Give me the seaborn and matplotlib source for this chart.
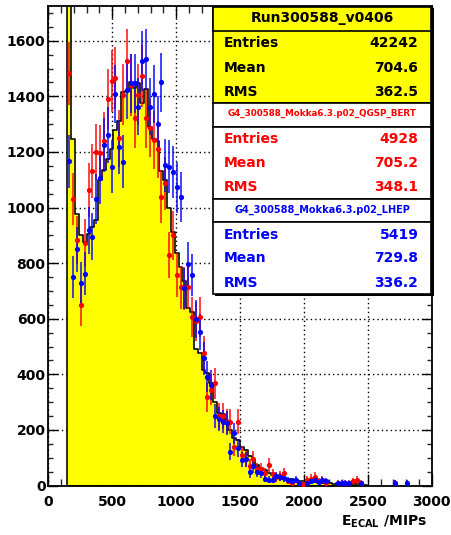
import numpy as np
import pandas as pd
import matplotlib
matplotlib.use("Agg")
import matplotlib.pyplot as plt
from matplotlib.patches import Rectangle
from matplotlib.ticker import MultipleLocator
import seaborn as sns

# ---------------- data ----------------
bin_width = 30
hist_start = 150
# data histogram (yellow), one value per 30-MIP bin starting at 150
data_counts = [2000, 1245, 975, 900, 875, 905, 930, 955, 1100, 1135,
               1175, 1210, 1280, 1310, 1415, 1418, 1452, 1430, 1448, 1375,
               1428, 1290, 1245, 1240, 1130, 1100, 1000, 912, 836, 786,
               735, 640, 625, 490, 476, 415, 404, 368, 300, 262,
               258, 236, 200, 172, 165, 140, 128, 106, 92, 74,
               63, 55, 45, 38, 36, 27, 25, 23, 22, 18,
               16, 16, 13, 12, 12, 10, 9, 10, 8, 7,
               8, 6, 5, 5, 6, 4, 5, 3]
# MC QGSP_BERT (red), per bin starting at 150 (NaN = empty bin)
red_counts = [1483, 1030, 883, 649, 873, 1063, 1131, 1200, 1197, 1240,
              1389, 1456, 1465, 1249, 1405, 1527, 1440, 1321, 1405, 1473,
              1321, 1285, 1243, 1209, 1039, 1087, 829, 900, 757, 713,
              709, 715, 605, 590, 607, 475, 317, 345, 367, 250,
              250, 230, 230, 140, 230, 110, 95, 70, 94, 60,
              60, 45, 74, 40, 30, 35, 44, 15, 10, np.nan,
              10, 5, 20, 25, 32, 15, 20, 10, np.nan, np.nan,
              10, np.nan, 8, 10, 15, 20, 10, np.nan, np.nan, np.nan,
              np.nan, np.nan, np.nan, np.nan, np.nan, 10]
# MC LHEP (blue)
blue_counts = [1167, 750, 850, 730, 762, 919, 895, 1030, 1105, 1225,
               1261, 1147, 1408, 1219, 1165, 1423, 1447, 1447, 1363, 1527,
               1533, 1363, 1408, 1302, 1450, 1152, 1147, 1129, 1073, 1037,
               709, 797, 757, 600, 553, 457, 391, 361, 250, 240,
               230, 225, 122, 188, 135, 92, 95, 48, 70, 50,
               45, 25, 20, 20, 34, 30, 28, 18, 15, 20,
               10, np.nan, 8, 15, 20, 12, 18, 15, np.nan, np.nan,
               8, 10, 10, 8, np.nan, np.nan, 8, np.nan, np.nan, np.nan,
               np.nan, np.nan, np.nan, np.nan, np.nan, 10, np.nan, np.nan, 10]

data_title = "Run300588_v0406"
red_title = "G4_300588_Mokka6.3.p02_QGSP_BERT"
blue_title = "G4_300588_Mokka6.3.p02_LHEP"
data_stats = [("Entries", "42242"), ("Mean", "704.6"), ("RMS", "362.5")]
red_stats = [("Entries", "4928"), ("Mean", "705.2"), ("RMS", "348.1")]
blue_stats = [("Entries", "5419"), ("Mean", "729.8"), ("RMS", "336.2")]
data_entries = 42242
red_entries = 4928
blue_entries = 5419

x_ticks = [0, 500, 1000, 1500, 2000, 2500, 3000]
y_ticks = [0, 200, 400, 600, 800, 1000, 1200, 1400, 1600]

# ---------------- style ----------------
sns.set_theme(style="white")
plt.rcParams["font.family"] = ["DejaVu Sans"]
plt.rcParams["mathtext.fontset"] = "dejavusans"

W, H = 452, 535
fig = plt.figure(figsize=(W / 100, H / 100), dpi=100)
fig.patch.set_facecolor("white")

def fx(x):
    return x / W

def fy(y):
    return 1 - y / H

ax_l, ax_r, ax_t, ax_b = 48.3, 431.7, 6.0, 485.5
ax = fig.add_axes([fx(ax_l), fy(ax_b), fx(ax_r) - fx(ax_l), fy(ax_t) - fy(ax_b)])
ax.set_facecolor("white")

# ---------------- histogram ----------------
n_data = len(data_counts)
edges = [float(hist_start + bin_width * i) for i in range(n_data + 1)]
centers = [e + bin_width / 2 for e in edges[:-1]]
df = pd.DataFrame({"E": centers, "w": data_counts})
sns.histplot(data=df, x="E", weights="w", bins=edges, element="step", fill=True,
             facecolor="#ffff00", edgecolor="black", linewidth=1.15, alpha=1,
             ax=ax, zorder=1)

def draw_points(vals, entries, color):
    vals = np.asarray(vals, dtype=float)
    c = hist_start + bin_width * np.arange(len(vals)) + bin_width / 2
    m = ~np.isnan(vals)
    scale = data_entries / entries
    err = np.sqrt(vals[m] * scale)
    ax.errorbar(c[m], vals[m], xerr=bin_width / 2, yerr=err, fmt="none",
                ecolor=color, elinewidth=1.3, capsize=0, zorder=3, alpha=0.8)
    sns.scatterplot(x=c[m], y=vals[m], color=color, s=14, linewidth=0,
                    ax=ax, zorder=4)

draw_points(red_counts, red_entries, "#ff0000")
draw_points(blue_counts, blue_entries, "#0000ff")

# ---------------- axes ----------------
ax.set_xlim(0, 3000)
ax.set_ylim(0, 1725)
ax.set_xticks(x_ticks)
ax.set_yticks(y_ticks)
ax.set_xticklabels([str(t) for t in x_ticks], fontsize=10, fontweight="bold")
ax.set_yticklabels([str(t) for t in y_ticks], fontsize=10, fontweight="bold")
ax.xaxis.set_minor_locator(MultipleLocator(100))
ax.yaxis.set_minor_locator(MultipleLocator(50))
ax.tick_params(axis="x", which="major", direction="in", length=8.5, width=1,
               top=True, bottom=True, pad=7, colors="black")
ax.tick_params(axis="x", which="minor", direction="in", length=5, width=1,
               top=True, bottom=True)
ax.tick_params(axis="y", which="major", direction="in", length=7, width=1,
               left=True, right=True, pad=2, colors="black")
ax.tick_params(axis="y", which="minor", direction="in", length=3.6, width=1,
               left=True, right=True)
ax.set_xlabel("")
ax.set_ylabel("")
ax.grid(True, which="major", color="black", linestyle=(0, (1, 2.2)), linewidth=1)
ax.set_axisbelow(True)
for s in ax.spines.values():
    s.set_visible(True)
    s.set_color("black")
    s.set_linewidth(1.3)

fig.text(fx(427), fy(521.7), r"E$_{\mathbf{ECAL}}$ /MIPs", ha="right", va="center",
         fontsize=10, fontweight="bold", color="black")

# ---------------- stat boxes ----------------
bx0, bx1 = 213.3, 431.5

def box(y0, y1, face):
    r = Rectangle((fx(bx0), fy(y1)), fx(bx1) - fx(bx0), fy(y0) - fy(y1),
                  transform=fig.transFigure, facecolor=face, edgecolor="black",
                  linewidth=1.2, zorder=10)
    fig.patches.append(r)

# shadow
fig.patches.append(Rectangle((fx(bx0 + 2), fy(296)), fx(bx1) - fx(bx0), fy(8) - fy(296),
                             transform=fig.transFigure, facecolor="black",
                             edgecolor="none", zorder=9))
box(6.7, 102.7, "#ffff00")
box(6.7, 30.7, "#ffff00")
box(102.7, 127, "white")
box(127, 199, "white")
box(199, 222, "white")
box(222, 294, "white")

def row_text(y, label, value, color):
    fig.text(fx(223.3), fy(y), label, ha="left", va="center", fontsize=10,
             fontweight="bold", color=color, zorder=11)
    fig.text(fx(418.5), fy(y), value, ha="right", va="center", fontsize=10,
             fontweight="bold", color=color, zorder=11)

cx = (bx0 + bx1) / 2
fig.text(fx(cx), fy(18), data_title, ha="center", va="center", fontsize=10,
         fontweight="bold", color="black", zorder=11)
for (lab, val), y in zip(data_stats, [43.3, 68.3, 91.7]):
    row_text(y, lab, val, "black")
fig.text(fx(cx), fy(113.5), red_title, ha="center", va="center", fontsize=6.3,
         fontweight="bold", color="#ff0000", zorder=11)
for (lab, val), y in zip(red_stats, [139.3, 163.3, 186.7]):
    row_text(y, lab, val, "#ff0000")
fig.text(fx(cx), fy(209.5), blue_title, ha="center", va="center", fontsize=7,
         fontweight="bold", color="#0000ff", zorder=11)
for (lab, val), y in zip(blue_stats, [235, 258.3, 282.7]):
    row_text(y, lab, val, "#0000ff")

fig.savefig("out.png", dpi=100, facecolor="white")
